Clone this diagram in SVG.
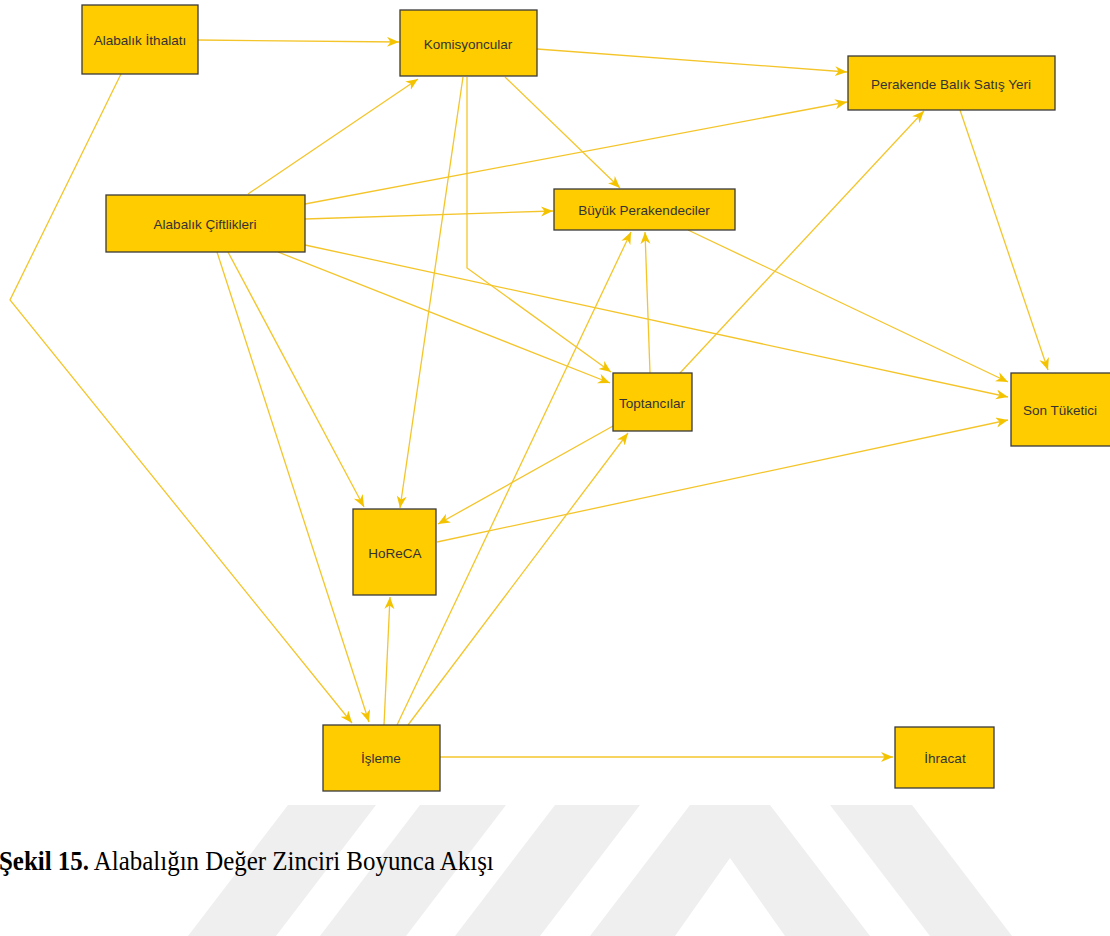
<svg xmlns="http://www.w3.org/2000/svg" width="1110" height="936" viewBox="0 0 1110 936">
<style>
.n rect{fill:#FFCC00;stroke:#3a3a3a;stroke-width:1.3}
.n text{font-family:"Liberation Sans",Arial,sans-serif;font-size:13.5px;fill:#333;text-anchor:middle;dominant-baseline:central}
.e path{fill:none;stroke:#F4C52A;stroke-width:1.3;marker-end:url(#ah)}
.wm{fill:#EFEFEF}
</style>
<defs>
<marker id="ah" markerUnits="userSpaceOnUse" markerWidth="13" markerHeight="11" refX="12" refY="5" orient="auto" viewBox="0 0 13 11">
<path d="M0,0 L12,5 L0,10 L3.5,5 z" fill="#F4C300"/>
</marker>
</defs>
<rect width="1110" height="936" fill="#fff"/>
<g id="watermark">
<polygon class="wm" points="288,805 376,805 276,936 188,936"/>
<polygon class="wm" points="420,805 506,805 406,936 320,936"/>
<polygon class="wm" points="555,805 640,805 540,936 455,936"/>
<polygon class="wm" points="690,805 770,805 870,936 785,936 730,858 675,936 590,936"/>
<polygon class="wm" points="830,805 912,805 1012,936 930,936"/>
</g>
<g id="connectors" class="e">
<path d="M198,40 L399,42"/>
<path d="M121,74 L10,300 L352,723"/>
<path d="M537,49 L847,72"/>
<path d="M505,77 L620,188"/>
<path d="M463,77 L400,508"/>
<path d="M467,77 L467,268 L611,372"/>
<path d="M248,194 L418,79"/>
<path d="M305,204 L847,102"/>
<path d="M305,219 L553,211"/>
<path d="M305,245 L1008,397"/>
<path d="M278,252 L610,383"/>
<path d="M228,252 L364,507"/>
<path d="M217,252 L369,722"/>
<path d="M688,230 L1008,382"/>
<path d="M960,110 L1048,370"/>
<path d="M680,373 L924,111"/>
<path d="M650,373 L645,232"/>
<path d="M613,426 L438,524"/>
<path d="M437,542 L1008,420"/>
<path d="M384,725 L390,597"/>
<path d="M397,725 L631,232"/>
<path d="M408,725 L628,433"/>
<path d="M440,757 L893,757"/>
</g>
<g id="n-ithalat" class="n"><rect x="82" y="5" width="116" height="69"/><text x="140" y="40">Alabalık İthalatı</text></g>
<g id="n-komisyoncular" class="n"><rect x="400" y="10" width="137" height="66"/><text x="468" y="44">Komisyoncular</text></g>
<g id="n-perakende" class="n"><rect x="848" y="56" width="207" height="54"/><text x="951" y="84">Perakende Balık Satış Yeri</text></g>
<g id="n-ciftlik" class="n"><rect x="106" y="195" width="199" height="57"/><text x="205" y="224">Alabalık Çiftlikleri</text></g>
<g id="n-buyuk" class="n"><rect x="554" y="189" width="181" height="41"/><text x="644" y="210">Büyük Perakendeciler</text></g>
<g id="n-toptanci" class="n"><rect x="613" y="373" width="79" height="58"/><text x="652" y="403">Toptancılar</text></g>
<g id="n-son" class="n"><rect x="1011" y="373" width="100" height="73"/><text x="1060" y="410">Son Tüketici</text></g>
<g id="n-horeca" class="n"><rect x="353" y="509" width="83" height="86"/><text x="395" y="553">HoReCA</text></g>
<g id="n-isleme" class="n"><rect x="323" y="725" width="117" height="66"/><text x="381" y="758">İşleme</text></g>
<g id="n-ihracat" class="n"><rect x="895" y="727" width="99" height="61"/><text x="945" y="758">İhracat</text></g>
<text transform="translate(-1,870) scale(0.89,1)" font-family="'Liberation Serif','Times New Roman',serif" font-size="28" fill="#000"><tspan font-weight="bold">Şekil 15.</tspan> Alabalığın Değer Zinciri Boyunca Akışı</text>
</svg>
